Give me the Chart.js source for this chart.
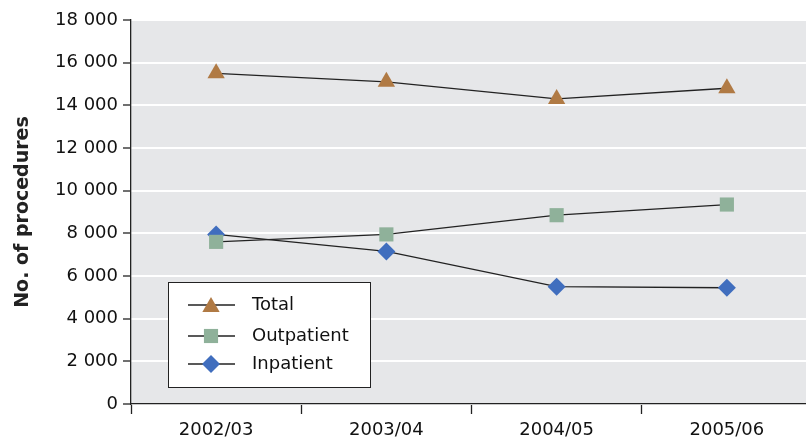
<!DOCTYPE html>
<html>
<head>
<meta charset="utf-8">
<script src="https://cdn.jsdelivr.net/npm/chart.js@4.4.0/dist/chart.umd.min.js"></script>
<style>
  html, body { margin: 0; padding: 0; background: #fff; overflow: hidden; }
  #myChart { display: block; }
</style>
</head>
<body>
<canvas id="myChart" width="822" height="439" style="width:822px;height:439px"></canvas>
<script>
var years = ["2002/03", "2003/04", "2004/05", "2005/06"];
var total = [15500, 15100, 14300, 14800];
var outpatient = [7600, 7950, 8850, 9350];
var inpatient = [7950, 7150, 5500, 5450];
var yTicks = [0, 2000, 4000, 6000, 8000, 10000, 12000, 14000, 16000, 18000];

var fontFam = "'DejaVu Sans', sans-serif";

// grey plot background
var plotBg = {
    id: "plotBg",
    beforeDraw: function (chart) {
        var a = chart.chartArea, ctx = chart.ctx;
        ctx.save();
        ctx.fillStyle = "#e6e7e9";
        ctx.fillRect(a.left, a.top, a.right - a.left, a.bottom - a.top);
        ctx.restore();
    }
};

// legend box inside the plot
var boxLegend = {
    id: "boxLegend",
    afterDraw: function (chart) {
        var ctx = chart.ctx;
        ctx.save();
        ctx.fillStyle = "#fff";
        ctx.strokeStyle = "#222";
        ctx.lineWidth = 1;
        ctx.fillRect(168, 282, 202, 105);
        ctx.strokeRect(168.5, 282.5, 202, 105);
        var rows = [305, 336, 364];
        chart.data.datasets.forEach(function (ds, i) {
            var y = rows[i];
            ctx.strokeStyle = "#222";
            ctx.lineWidth = 1.3;
            ctx.beginPath();
            ctx.moveTo(188, y);
            ctx.lineTo(235, y);
            ctx.stroke();
            ctx.fillStyle = ds.pointBackgroundColor;
            ctx.strokeStyle = ds.pointBackgroundColor;
            Chart.helpers.drawPoint(ctx, {pointStyle: ds.pointStyle, radius: ds.pointRadius, borderWidth: 0}, 211, y + (ds.pointStyle === "triangle" ? 2 : 0));
            ctx.fillStyle = "#111";
            ctx.font = "18px " + fontFam;
            ctx.textBaseline = "middle";
            ctx.fillText(ds.label, 252, y);
        });
        ctx.restore();
    }
};

new Chart(document.getElementById("myChart"), {
    type: "line",
    data: {
        labels: years,
        datasets: [
            {label: "Total", data: total, borderColor: "#222", borderWidth: 1.3,
             pointStyle: "triangle", pointRadius: 10, pointBackgroundColor: "#b07a44",
             pointBorderColor: "#b07a44", pointBorderWidth: 0, tension: 0},
            {label: "Outpatient", data: outpatient, borderColor: "#222", borderWidth: 1.3,
             pointStyle: "rect", pointRadius: 10, pointBackgroundColor: "#8fb19a",
             pointBorderColor: "#8fb19a", pointBorderWidth: 0, tension: 0},
            {label: "Inpatient", data: inpatient, borderColor: "#222", borderWidth: 1.3,
             pointStyle: "rectRot", pointRadius: 9, pointBackgroundColor: "#406ebe",
             pointBorderColor: "#406ebe", pointBorderWidth: 0, tension: 0}
        ]
    },
    options: {
        responsive: false,
        animation: false,
        layout: {padding: {top: 20, right: 0, bottom: -1, left: 0}},
        plugins: {
            legend: {display: false},
            tooltip: {enabled: false}
        },
        scales: {
            x: {
                offset: true,
                afterFit: function (scale) { scale.height = 36; },
                grid: {offset: true, drawOnChartArea: false, tickColor: "#222", tickLength: 10, tickWidth: 1.3},
                border: {color: "#222", width: 1.3},
                ticks: {color: "#111", font: {family: fontFam, size: 18}, padding: 6, maxRotation: 0}
            },
            y: {
                min: 0,
                max: 18000,
                afterBuildTicks: function (scale) {
                    scale.ticks = yTicks.map(function (v) { return {value: v}; });
                },
                afterFit: function (scale) { scale.width = 131; },
                grid: {color: "#ffffff", lineWidth: 2, tickColor: "#222", tickLength: 8, tickWidth: 1.3},
                border: {color: "#222", width: 1.3},
                ticks: {
                    color: "#111",
                    font: {family: fontFam, size: 18},
                    padding: 5,
                    callback: function (v) {
                        return String(v).replace(/\B(?=(\d{3})+(?!\d))/g, " ");
                    }
                },
                title: {
                    display: true,
                    text: "No. of procedures",
                    color: "#222",
                    font: {family: fontFam, size: 19, weight: "bold"},
                    padding: {top: 12, bottom: 0}
                }
            }
        }
    },
    plugins: [plotBg, boxLegend]
});
</script>
</body>
</html>
